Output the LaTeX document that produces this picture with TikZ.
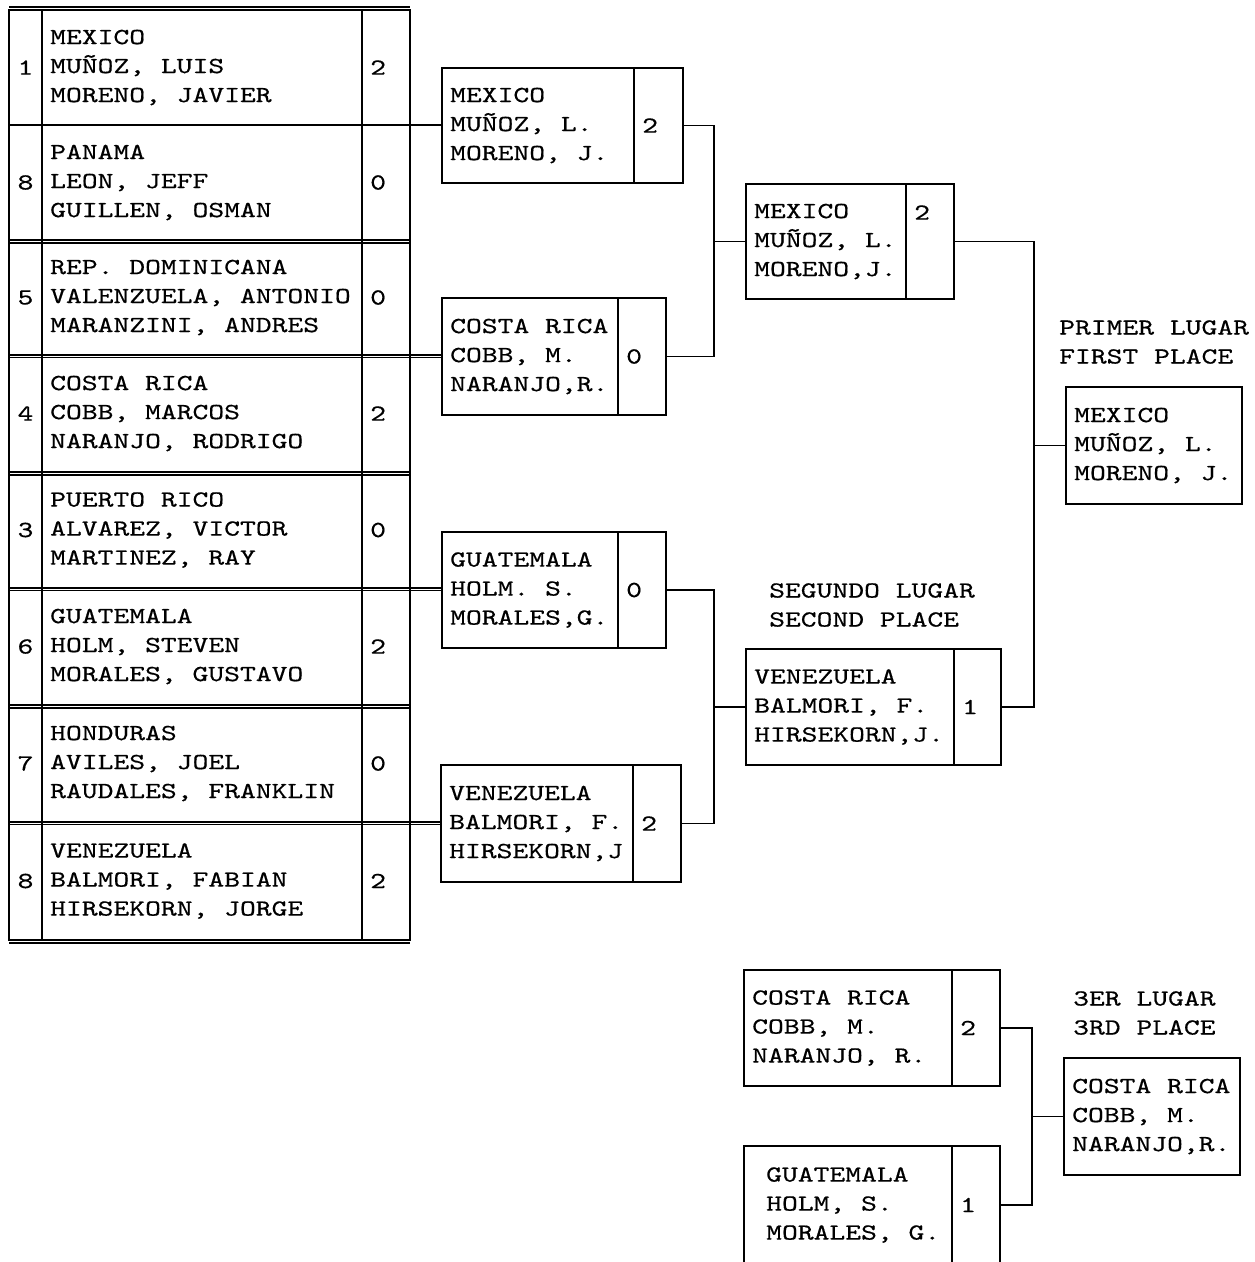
\documentclass[tikz,border=0pt]{standalone}
\usepackage{fontspec}
\newfontfamily\cour[FakeStretch=1.31,FakeBold=0.5]{lmmono10-regular.otf}
\newcommand\courfont{\fontsize{23}{29}\cour\frenchspacing}
\tikzset{
  cell/.style={draw, line width=1.3pt, rectangle, anchor=north west, outer sep=0pt, inner sep=0pt},
  lbl/.style={inner sep=0pt, align=left, anchor=west, font=\courfont},
  link/.style={line width=1.3pt, line join=miter},
}
% #1 name, #2 x, #3 y, #4 width, #5 height, #6 text
\newcommand\mkcell[6]{%
  \node[cell, minimum width=#4pt, minimum height=#5pt] (#1) at (#2,#3) {};
  \node[lbl] (#1t) at ([xshift=8pt]#1.west) {#6};}
\begin{document}
\begin{tikzpicture}[x=1pt,y=-1pt]
\useasboundingbox (0,0) rectangle (1254,1262);
\fill[white] (0,0) rectangle (1254,1262);
\clip (0,0) rectangle (1254,1262);

% ---------- first-round table ----------
\mkcell{n1}{9}{10}{33}{115}{} \node[lbl, anchor=center] (n1t) at (n1.center) {1};
\mkcell{t1}{42}{10}{320}{115}{MEXICO\\MUÑOZ, LUIS\\MORENO, JAVIER}
\mkcell{s1}{362}{10}{48}{115}{2}

\mkcell{n2}{9}{125}{33}{115}{} \node[lbl, anchor=center] (n2t) at (n2.center) {8};
\mkcell{t2}{42}{125}{320}{115}{PANAMA\\LEON, JEFF\\GUILLEN, OSMAN}
\mkcell{s2}{362}{125}{48}{115}{0}

\mkcell{n3}{9}{240}{33}{115}{} \node[lbl, anchor=center] (n3t) at (n3.center) {5};
\mkcell{t3}{42}{240}{320}{115}{REP. DOMINICANA\\VALENZUELA, ANTONIO\\MARANZINI, ANDRES}
\mkcell{s3}{362}{240}{48}{115}{0}

\mkcell{n4}{9}{355}{33}{117}{} \node[lbl, anchor=center] (n4t) at (n4.center) {4};
\mkcell{t4}{42}{355}{320}{117}{COSTA RICA\\COBB, MARCOS\\NARANJO, RODRIGO}
\mkcell{s4}{362}{355}{48}{117}{2}

\mkcell{n5}{9}{472}{33}{116}{} \node[lbl, anchor=center] (n5t) at (n5.center) {3};
\mkcell{t5}{42}{472}{320}{116}{PUERTO RICO\\ALVAREZ, VICTOR\\MARTINEZ, RAY}
\mkcell{s5}{362}{472}{48}{116}{0}

\mkcell{n6}{9}{588}{33}{117}{} \node[lbl, anchor=center] (n6t) at (n6.center) {6};
\mkcell{t6}{42}{588}{320}{117}{GUATEMALA\\HOLM, STEVEN\\MORALES, GUSTAVO}
\mkcell{s6}{362}{588}{48}{117}{2}

\mkcell{n7}{9}{705}{33}{117}{} \node[lbl, anchor=center] (n7t) at (n7.center) {7};
\mkcell{t7}{42}{705}{320}{117}{HONDURAS\\AVILES, JOEL\\RAUDALES, FRANKLIN}
\mkcell{s7}{362}{705}{48}{117}{0}

\mkcell{n8}{9}{822}{33}{118}{} \node[lbl, anchor=center] (n8t) at (n8.center) {8};
\mkcell{t8}{42}{822}{320}{118}{VENEZUELA\\BALMORI, FABIAN\\HIRSEKORN, JORGE}
\mkcell{s8}{362}{822}{48}{118}{2}

% doubled rules of the table
\draw[link] ([yshift=3pt]n1.north west) -- ([yshift=3pt]s1.north east);
\foreach \r in {2,4,6,8}{
  \draw[link] ([yshift=-3pt]n\r.south west) -- ([yshift=-3pt]s\r.south east);
}
\foreach \r in {3,5,7}{
  \draw[link] ([yshift=-2.5pt]n\r.south west) -- ([yshift=-2.5pt]s\r.south east);
}

% ---------- second round ----------
\mkcell{An}{442}{68}{192}{115}{MEXICO\\MUÑOZ, L.\\MORENO, J.}
\mkcell{As}{634}{68}{49}{115}{2}

\mkcell{Bn}{442}{298}{176}{117}{COSTA RICA\\COBB, M.\\NARANJO,R.}
\mkcell{Bs}{618}{298}{48}{117}{0}

\mkcell{Cn}{442}{532}{176}{116}{GUATEMALA\\HOLM. S.\\MORALES,G.}
\mkcell{Cs}{618}{532}{48}{116}{0}

\mkcell{Dn}{441}{765}{192}{117}{VENEZUELA\\BALMORI, F.\\HIRSEKORN,J}
\mkcell{Ds}{633}{765}{48}{117}{2}

% table to second round
\draw[link] (s1.south east) -- (s1.south east -| An.west);
\draw[link] (s3.south east) -- (s3.south east -| Bn.west);
\draw[link] ([yshift=-2.5pt]s3.south east) -- ([yshift=-2.5pt]s3.south east -| Bn.west);
\draw[link] (s5.south east) -- (s5.south east -| Cn.west);
\draw[link] ([yshift=-2.5pt]s5.south east) -- ([yshift=-2.5pt]s5.south east -| Cn.west);
\draw[link] (s7.south east) -- (s7.south east -| Dn.west);
\draw[link] ([yshift=-2.5pt]s7.south east) -- ([yshift=-2.5pt]s7.south east -| Dn.west);

% ---------- semifinal winners ----------
\mkcell{En}{746}{184}{160}{115}{MEXICO\\MUÑOZ, L.\\MORENO,J.}
\node[cell, minimum width=48pt, minimum height=115pt] (Es) at (906,184) {};
\node[lbl] (Est) at ([xshift=8pt,yshift=29pt]Es.west) {2};

\mkcell{Fn}{746}{649}{208}{116}{VENEZUELA\\BALMORI, F.\\HIRSEKORN,J.}
\mkcell{Fs}{954}{649}{47}{116}{1}

\path (En.west) ++(-32,0) coordinate (j1);
\draw[link] (As.east) -| (j1) |- (Bs.east);
\draw[link] (j1) -- (En.west);

\path (Fn.west) ++(-32,0) coordinate (j2);
\draw[link] (Cs.east) -| (j2) |- (Ds.east);
\draw[link] (j2) -- (Fn.west);

\node[lbl] (L2) at (769,605) {SEGUNDO LUGAR\\SECOND PLACE};

% ---------- final ----------
\mkcell{Gn}{1066}{387}{176}{117}{MEXICO\\MUÑOZ, L.\\MORENO, J.}
\node[lbl] (L1) at (1059,342) {PRIMER LUGAR\\FIRST PLACE};

\path (Gn.west) ++(-32,0) coordinate (j3);
\draw[link] (Es.east) -| (j3) |- (Fs.east);
\draw[link] (j3) -- (Gn.west);

% ---------- third place ----------
\mkcell{Hn}{744}{970}{208}{116}{COSTA RICA\\COBB, M.\\NARANJO, R.}
\mkcell{Hs}{952}{970}{48}{116}{2}

\node[cell, minimum width=208pt, minimum height=118pt] (In) at (744,1146) {};
\node[lbl] (Int) at ([xshift=22pt]In.west) {GUATEMALA\\HOLM, S.\\MORALES, G.};
\mkcell{Is}{952}{1146}{48}{118}{1}

\mkcell{Jn}{1064}{1058}{176}{117}{COSTA RICA\\COBB, M.\\NARANJO,R.}
\node[lbl] (L3) at (1073,1013) {3ER LUGAR\\3RD PLACE};

\path (Jn.west) ++(-32,0) coordinate (j4);
\draw[link] (Hs.east) -| (j4) |- (Is.east);
\draw[link] (j4) -- (Jn.west);
\end{tikzpicture}
\end{document}
